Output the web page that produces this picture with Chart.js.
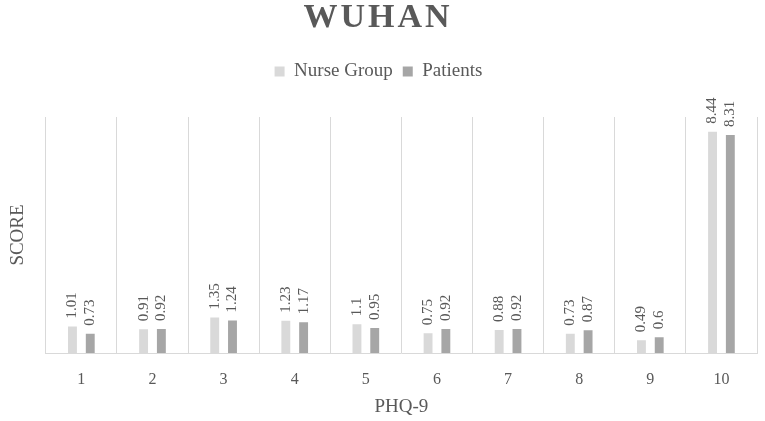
<!DOCTYPE html>
<html>
<head>
<meta charset="utf-8">
<script src="https://cdn.jsdelivr.net/npm/chart.js@4/dist/chart.umd.min.js"></script>
<style>
  html, body { margin: 0; padding: 0; background: #fff; }
  #wrap { width: 765px; height: 421px; }
</style>
</head>
<body>
<div id="wrap"><canvas id="c" width="765" height="421"></canvas></div>
<script>
// ===== DATA =====
const categories = ["1", "2", "3", "4", "5", "6", "7", "8", "9", "10"];
const nurseGroup = [1.01, 0.91, 1.35, 1.23, 1.1, 0.75, 0.88, 0.73, 0.49, 8.44];
const patients   = [0.73, 0.92, 1.24, 1.17, 0.95, 0.92, 0.92, 0.87, 0.6, 8.31];

const TEXT = "#595959";
const SERIF = "'Liberation Serif', 'Times New Roman', serif";

// title drawn by hand so it can be letter-spaced
const titlePlugin = {
  id: "wuhanTitle",
  afterDraw(chart) {
    const ctx = chart.ctx;
    ctx.save();
    ctx.font = "bold 34px " + SERIF;
    ctx.fillStyle = TEXT;
    ctx.textAlign = "center";
    ctx.textBaseline = "alphabetic";
    ctx.letterSpacing = "3px";
    ctx.fillText("WUHAN", 378, 27);
    ctx.restore();
  }
};

// extra room under the legend
const legendGap = {
  id: "legendGap",
  beforeInit(chart) {
    const fit = chart.legend.fit;
    chart.legend.fit = function () {
      fit.bind(chart.legend)();
      this.height += 26;
    };
  }
};

// rotated value labels above the bars
const valueLabels = {
  id: "valueLabels",
  afterDatasetsDraw(chart) {
    const ctx = chart.ctx;
    ctx.save();
    ctx.font = "15px " + SERIF;
    ctx.fillStyle = TEXT;
    ctx.textAlign = "left";
    ctx.textBaseline = "middle";
    chart.data.datasets.forEach((ds, i) => {
      chart.getDatasetMeta(i).data.forEach((bar, j) => {
        ctx.save();
        ctx.translate(bar.x, bar.y - 8);
        ctx.rotate(-Math.PI / 2);
        ctx.fillText(String(ds.data[j]), 0, 0);
        ctx.restore();
      });
    });
    ctx.restore();
  }
};

new Chart(document.getElementById("c"), {
  type: "bar",
  data: {
    labels: categories,
    datasets: [
      { label: "Nurse Group", data: nurseGroup, backgroundColor: "#d9d9d9" },
      { label: "Patients", data: patients, backgroundColor: "#a6a6a6" }
    ]
  },
  options: {
    responsive: false,
    animation: false,
    categoryPercentage: 0.5,
    barPercentage: 0.5,
    layout: { padding: { top: 52, right: 8, left: 0, bottom: 0 } },
    plugins: {
      tooltip: { enabled: false },
      legend: {
        position: "top",
        labels: {
          color: TEXT,
          font: { family: SERIF, size: 19 },
          boxWidth: 10,
          boxHeight: 10,
          padding: 10
        }
      }
    },
    scales: {
      x: {
        grid: { color: "#d9d9d9", lineWidth: 1, offset: true, drawTicks: false },
        border: { color: "#d9d9d9" },
        ticks: { color: TEXT, font: { family: SERIF, size: 16 }, padding: 17 },
        title: {
          display: true,
          text: "PHQ-9",
          color: TEXT,
          font: { family: SERIF, size: 19 },
          padding: { top: -11, bottom: 3 }
        }
      },
      y: {
        min: 0,
        max: 9,
        grid: { display: false },
        border: { display: false },
        ticks: { display: false },
        title: {
          display: true,
          text: "SCORE",
          color: TEXT,
          font: { family: SERIF, size: 19 },
          padding: { top: 7, bottom: 8 }
        }
      }
    }
  },
  plugins: [legendGap, valueLabels, titlePlugin]
});
</script>
</body>
</html>
